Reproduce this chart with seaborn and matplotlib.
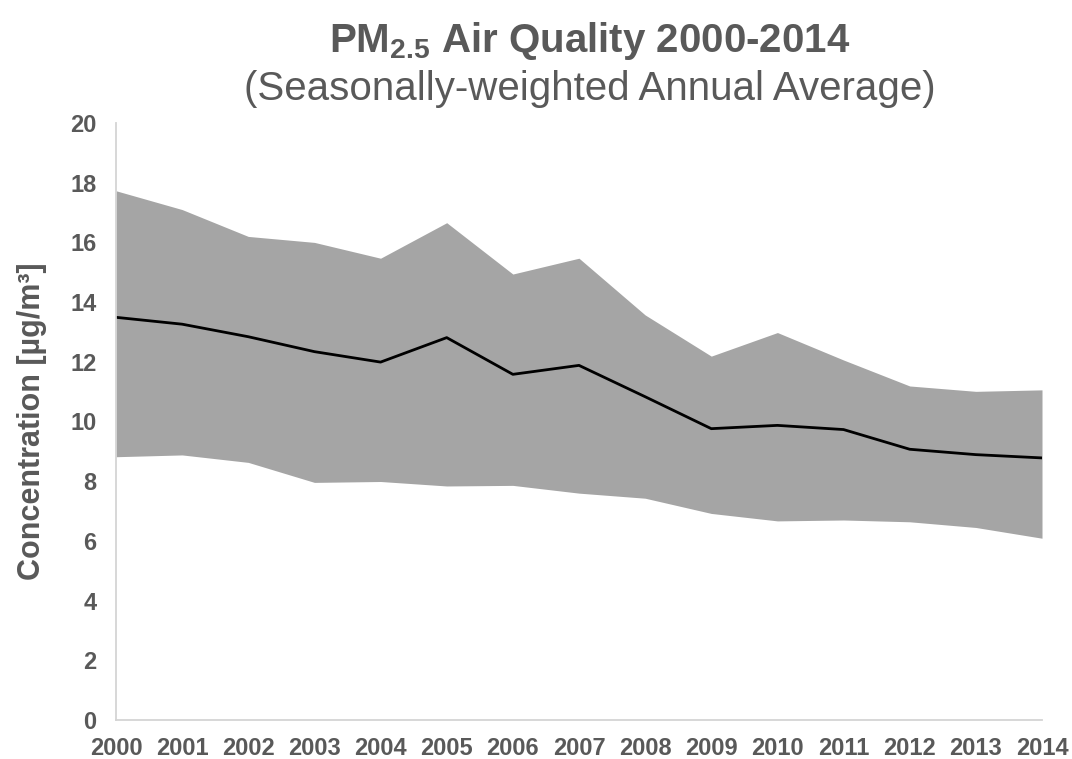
import matplotlib
matplotlib.use("Agg")
import matplotlib.pyplot as plt
import seaborn as sns
import pandas as pd

# Annual PM2.5 concentrations (µg/m³)
years = [2000, 2001, 2002, 2003, 2004, 2005, 2006, 2007,
         2008, 2009, 2010, 2011, 2012, 2013, 2014]
upper = [17.73, 17.10, 16.20, 16.00, 15.47, 16.66, 14.94, 15.47,
         13.57, 12.19, 12.98, 12.06, 11.19, 11.01, 11.06]
mean = [13.49, 13.26, 12.84, 12.34, 11.99, 12.81, 11.58, 11.88,
        10.83, 9.76, 9.87, 9.73, 9.07, 8.89, 8.78]
lower = [8.82, 8.88, 8.63, 7.96, 7.99, 7.84, 7.86, 7.60,
         7.43, 6.92, 6.67, 6.70, 6.64, 6.45, 6.09]
y_ticks = [0, 2, 4, 6, 8, 10, 12, 14, 16, 18, 20]

df = pd.DataFrame({"year": years, "upper": upper, "mean": mean, "lower": lower})

sns.set_theme(style="white")
plt.rcParams["font.family"] = ["Liberation Sans", "DejaVu Sans"]
plt.rcParams["mathtext.fontset"] = "custom"
plt.rcParams["mathtext.rm"] = "Liberation Sans"
plt.rcParams["mathtext.bf"] = "Liberation Sans:bold"

text_color = "#595959"
axis_color = "#d4d4d4"

fig = plt.figure(figsize=(10.72, 7.59), dpi=100)
ax = fig.add_axes([116 / 1072, 39 / 759, 926 / 1072, 597 / 759])

# Range band between upper and lower values
ax.fill_between(df["year"], df["lower"], df["upper"], color="#a5a5a5",
                linewidth=0, zorder=1)
# Mean concentration line
sns.lineplot(data=df, x="year", y="mean", ax=ax, color="black",
             linewidth=2.0, zorder=2)

ax.set_xlim(2000, 2014)
ax.set_ylim(0, 20)
ax.set_xticks(years)
ax.set_xticklabels([str(y) for y in years])
ax.set_yticks(y_ticks)
ax.set_yticklabels([str(t) for t in y_ticks])

for side in ["top", "right"]:
    ax.spines[side].set_visible(False)
for side in ["left", "bottom"]:
    ax.spines[side].set_color(axis_color)
    ax.spines[side].set_linewidth(1.3)

ax.tick_params(axis="both", which="major", direction="out", length=5,
               width=1.3, color=axis_color, labelcolor=text_color,
               labelsize=17)
ax.tick_params(axis="y", pad=9)
ax.tick_params(axis="x", pad=7)
for lbl in ax.get_xticklabels() + ax.get_yticklabels():
    lbl.set_fontweight("bold")

ax.set_xlabel("")
ax.set_ylabel("Concentration [µg/m³]", fontsize=22, fontweight="bold",
              color=text_color)
ax.yaxis.set_label_coords(-0.075, 0.5)

fig.text(590 / 1072, 1 - 41 / 759, r"PM$_{\mathbf{2.5}}$ Air Quality 2000-2014",
         ha="center", va="center", fontsize=29, fontweight="bold",
         color=text_color)
fig.text(590 / 1072, 1 - 89 / 759, "(Seasonally-weighted Annual Average)",
         ha="center", va="center", fontsize=29, color=text_color)

fig.savefig("out.png", dpi=100, facecolor="white")
